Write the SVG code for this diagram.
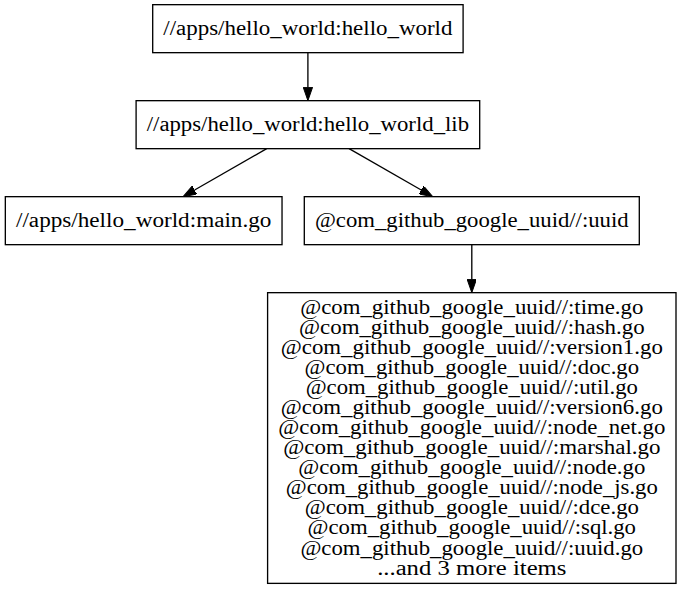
<svg xmlns="http://www.w3.org/2000/svg" width="681" height="589" viewBox="0 0 681 589">
<style>
  .box { fill: #ffffff; stroke: #000000; stroke-width: 1.33; }
  .lbl { font-family: "Liberation Serif", "Times New Roman", serif; font-size: 20px; fill: #000000; text-anchor: middle; }
  .edge { fill: none; stroke: #000000; stroke-width: 1.33; }
</style>
<defs>
  <marker id="arrow" viewBox="0 0 13.33 9.33" refX="0" refY="4.67" markerWidth="13.33" markerHeight="9.33" markerUnits="userSpaceOnUse" orient="auto">
    <path d="M0,0 L13.33,4.67 L0,9.33 Z" fill="#000000" stroke="#000000" stroke-width="1"/>
  </marker>
</defs>
<rect x="0" y="0" width="681" height="589" fill="#ffffff"/>
<g id="connectors">
  <path class="edge" d="M307.9,52.67 L307.9,87.3" marker-end="url(#arrow)"/>
  <path class="edge" d="M266.7,148.67 L194.6,190.0" marker-end="url(#arrow)"/>
  <path class="edge" d="M349.1,148.67 L421.2,190.0" marker-end="url(#arrow)"/>
  <path class="edge" d="M471.8,244.67 L471.8,279.3" marker-end="url(#arrow)"/>
</g>
<g id="node-hello_world">
  <rect class="box" x="152.7" y="4.67" width="310.4" height="48"/>
  <text class="lbl" x="307.9" y="34.7" textLength="289.1" lengthAdjust="spacingAndGlyphs">//apps/hello_world:hello_world</text>
</g>
<g id="node-hello_world_lib">
  <rect class="box" x="136.1" y="100.67" width="343.6" height="48"/>
  <text class="lbl" x="307.9" y="130.7" textLength="322.3" lengthAdjust="spacingAndGlyphs">//apps/hello_world:hello_world_lib</text>
</g>
<g id="node-main_go">
  <rect class="box" x="5.33" y="196.67" width="276.7" height="48"/>
  <text class="lbl" x="143.7" y="226.7" textLength="255.4" lengthAdjust="spacingAndGlyphs">//apps/hello_world:main.go</text>
</g>
<g id="node-uuid">
  <rect class="box" x="304.3" y="196.67" width="335" height="48"/>
  <text class="lbl" x="471.8" y="226.7" textLength="313.7" lengthAdjust="spacingAndGlyphs">@com_github_google_uuid//:uuid</text>
</g>
<g id="node-uuid_files">
  <rect class="box" x="267.6" y="292.67" width="408.4" height="290.7"/>
  <text class="lbl" x="471.8" y="313.5" textLength="343.1" lengthAdjust="spacingAndGlyphs">@com_github_google_uuid//:time.go</text>
  <text class="lbl" x="471.8" y="333.6" textLength="345.6" lengthAdjust="spacingAndGlyphs">@com_github_google_uuid//:hash.go</text>
  <text class="lbl" x="471.8" y="353.7" textLength="382.1" lengthAdjust="spacingAndGlyphs">@com_github_google_uuid//:version1.go</text>
  <text class="lbl" x="471.8" y="373.7" textLength="334.5" lengthAdjust="spacingAndGlyphs">@com_github_google_uuid//:doc.go</text>
  <text class="lbl" x="471.8" y="393.8" textLength="332.3" lengthAdjust="spacingAndGlyphs">@com_github_google_uuid//:util.go</text>
  <text class="lbl" x="471.8" y="413.9" textLength="382.1" lengthAdjust="spacingAndGlyphs">@com_github_google_uuid//:version6.go</text>
  <text class="lbl" x="471.8" y="434.0" textLength="387.0" lengthAdjust="spacingAndGlyphs">@com_github_google_uuid//:node_net.go</text>
  <text class="lbl" x="471.8" y="454.1" textLength="377.3" lengthAdjust="spacingAndGlyphs">@com_github_google_uuid//:marshal.go</text>
  <text class="lbl" x="471.8" y="474.1" textLength="347.1" lengthAdjust="spacingAndGlyphs">@com_github_google_uuid//:node.go</text>
  <text class="lbl" x="471.8" y="494.2" textLength="372.0" lengthAdjust="spacingAndGlyphs">@com_github_google_uuid//:node_js.go</text>
  <text class="lbl" x="471.8" y="514.3" textLength="334.3" lengthAdjust="spacingAndGlyphs">@com_github_google_uuid//:dce.go</text>
  <text class="lbl" x="471.8" y="534.4" textLength="328.4" lengthAdjust="spacingAndGlyphs">@com_github_google_uuid//:sql.go</text>
  <text class="lbl" x="471.8" y="554.5" textLength="342.8" lengthAdjust="spacingAndGlyphs">@com_github_google_uuid//:uuid.go</text>
  <text class="lbl" x="471.8" y="574.5" textLength="189.3" lengthAdjust="spacingAndGlyphs">...and 3 more items</text>
</g>
</svg>
